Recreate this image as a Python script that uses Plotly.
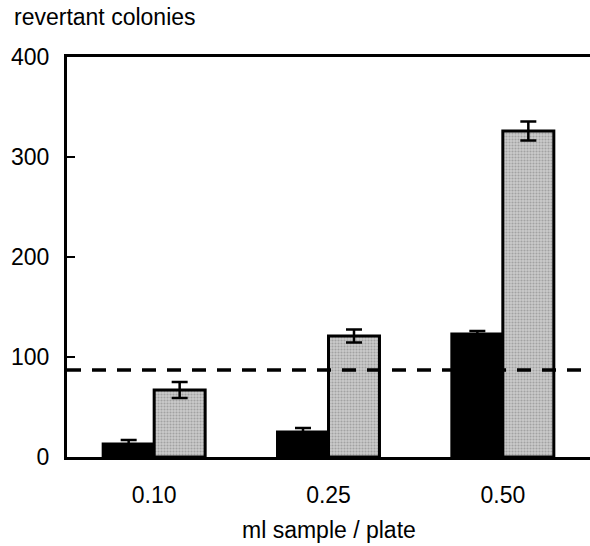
import plotly.graph_objects as go

categories = ["0.10", "0.25", "0.50"]
black_values = [13, 25, 123]
black_errors = [4, 4, 3]
grey_values = [67, 121, 326]
grey_errors = [8, 6.5, 9.5]
threshold = 87
y_ticks = [0, 100, 200, 300, 400]

FONT = "Liberation Sans, Arial, sans-serif"

fig = go.Figure()
fig.add_trace(go.Bar(
    x=categories, y=black_values,
    marker=dict(color="black", line=dict(color="black", width=3)),
    error_y=dict(type="data", array=black_errors, color="black", thickness=2.5, width=8),
    showlegend=False,
))
fig.add_trace(go.Bar(
    x=categories, y=grey_values,
    marker=dict(color="#c0c0c0", line=dict(color="black", width=3),
                pattern=dict(shape=".", fgcolor="#7a7a7a", bgcolor="#cbcbcb", size=3, solidity=0.4)),
    error_y=dict(type="data", array=grey_errors, color="black", thickness=2.5, width=8),
    showlegend=False,
))

fig.add_shape(type="line", xref="paper", x0=0, x1=1, yref="y", y0=threshold, y1=threshold,
              line=dict(color="black", width=3.5, dash="14px,11px"), layer="above")

fig.update_layout(
    width=590, height=546,
    margin=dict(l=67, r=0, t=57, b=89),
    paper_bgcolor="white", plot_bgcolor="white",
    barmode="group", bargap=0.415, bargroupgap=0,
    font=dict(family=FONT, size=23, color="black"),
    xaxis=dict(range=[-0.5, 2.5], showline=True, linecolor="black", linewidth=3, mirror=True,
               ticks="", showgrid=False, zeroline=False, ticklabelstandoff=15,
               tickfont=dict(size=23)),
    yaxis=dict(range=[0, 400], tickvals=y_ticks, showline=True, linecolor="black", linewidth=3,
               ticks="inside", ticklen=8, tickwidth=2, tickcolor="black",
               showgrid=False, zeroline=False, ticklabelstandoff=10,
               tickfont=dict(size=23)),
    annotations=[
        dict(text="revertant colonies", xref="paper", yref="paper", x=-55/523, y=1 + 40/400,
             xanchor="left", yanchor="middle", showarrow=False, font=dict(size=23)),
        dict(text="ml sample / plate", xref="paper", yref="paper", x=0.5, y=-73/400,
             xanchor="center", yanchor="middle", showarrow=False, font=dict(size=23)),
    ],
)

fig.write_html("out.html")
